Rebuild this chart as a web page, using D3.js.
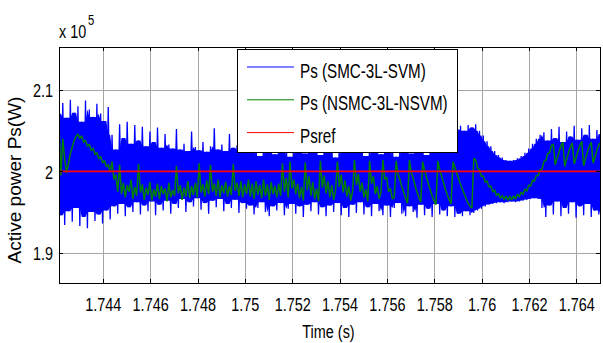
<!DOCTYPE html>
<html>
<head>
<meta charset="utf-8">
<script src="https://cdn.jsdelivr.net/npm/d3@7"></script>
<style>
  body { margin: 0; background: #fff; }
  svg { display: block; }
  text { font-family: "Liberation Sans", Arial, sans-serif; fill: #000; }
</style>
</head>
<body>
<svg id="chart" width="603" height="343"></svg>
<script>
// Sampled record: first sample time and sample step (s)
const tStart = 1.74215;
const tStep = 0.00008;
const tEnd = 1.765;

// Ps with SMC and 3-level SVM (x 10^5 W), successive extremes
const psSmc = [
  2.071,1.946,2.084,1.934,2.066,1.951,2.088,1.938,2.072,1.955,
  2.080,1.933,2.061,1.944,2.087,1.930,2.076,1.950,2.067,1.939,
  2.083,1.947,2.071,1.936,2.062,1.952,2.079,1.941,2.045,1.957,
  2.027,1.948,2.058,1.960,2.041,1.945,2.061,1.956,2.034,1.950,
  2.057,1.962,2.038,1.947,2.055,1.958,2.031,1.951,2.049,1.963,
  2.036,1.946,2.054,1.959,2.029,1.952,2.046,1.964,2.033,1.948,
  2.028,1.960,2.052,1.955,2.027,1.966,2.034,1.950,2.025,1.962,
  2.049,1.957,2.030,1.967,2.026,1.953,2.036,1.961,2.024,1.948,
  2.031,1.964,2.053,1.956,2.027,1.966,2.033,1.951,2.025,1.960,
  2.046,1.955,2.029,1.965,2.032,1.949,2.026,1.961,2.051,1.954,
  2.030,1.958,2.024,1.947,2.035,1.955,2.019,1.962,2.032,1.950,
  2.027,1.945,2.038,1.957,2.021,1.952,2.033,1.961,2.026,1.946,
  2.036,1.954,2.018,1.960,2.031,1.948,2.028,1.957,2.039,1.944,
  2.022,1.959,2.034,1.951,2.025,1.962,2.037,1.947,2.020,1.956,
  2.032,1.945,2.029,1.958,2.040,1.950,2.017,1.961,2.033,1.946,
  2.026,1.955,2.036,1.944,2.023,1.959,2.031,1.949,2.028,1.962,
  2.038,1.947,2.019,1.956,2.034,1.945,2.025,1.960,2.037,1.951,
  2.021,1.946,2.030,1.958,2.027,1.944,2.039,1.955,2.018,1.961,
  2.033,1.948,2.029,1.945,2.036,1.957,2.022,1.950,2.035,1.943,
  2.026,1.959,2.041,1.946,2.020,1.954,2.032,1.944,2.027,1.960,
  2.038,1.947,2.024,1.952,2.043,1.945,2.030,1.957,2.047,1.944,
  2.052,1.948,2.056,1.945,2.050,1.951,2.057,1.946,2.054,1.949,
  2.058,1.952,2.050,1.954,2.044,1.957,2.037,1.959,2.031,1.960,
  2.025,1.961,2.020,1.962,2.017,1.961,2.014,1.962,2.013,1.963,
  2.014,1.962,2.016,1.963,2.019,1.964,2.023,1.965,2.028,1.966,
  2.034,1.967,2.040,1.966,2.045,1.955,2.048,1.944,2.038,1.958,
  2.052,1.947,2.041,1.963,2.055,1.945,2.036,1.955,2.049,1.948,
  2.043,1.962,2.056,1.943,2.039,1.957,2.053,1.946,2.045,1.960,
  2.057,1.944,2.040,1.952,2.051,1.947,2.046
];

// Ps with NSMC and 3-level NSVM (x 10^5 W)
const psNsmc = [
  2.058,1.995,2.040,2.015,1.998,2.010,2.022,2.030,2.038,2.043,
  2.046,2.040,2.044,2.036,2.038,2.031,2.033,2.026,2.028,2.021,
  2.023,2.016,2.018,2.011,2.013,2.006,2.008,2.000,2.012,1.990,
  1.996,1.975,2.008,1.972,1.986,1.968,1.983,1.975,1.990,1.966,
  1.981,1.970,2.009,1.974,1.984,1.965,1.980,1.971,1.987,1.964,
  1.978,1.969,1.985,1.966,1.982,1.972,1.979,1.963,1.986,1.968,
  1.977,1.970,2.007,1.973,1.983,1.965,1.980,1.969,1.988,1.967,
  1.982,1.971,1.986,1.968,2.010,1.974,1.984,1.969,1.989,1.972,
  2.008,1.975,1.985,1.970,1.990,1.968,1.983,1.973,1.987,1.969,
  1.982,1.971,2.009,1.976,1.986,1.970,1.988,1.968,1.984,1.972,
  1.990,1.969,1.985,1.966,1.988,1.971,1.983,1.967,1.990,1.970,
  1.984,1.965,1.987,1.972,1.982,1.968,1.985,1.970,2.010,1.975,
  1.992,1.968,2.012,1.979,1.990,1.972,1.985,1.967,1.981,1.964,
  2.011,1.977,1.994,1.970,1.987,1.966,1.979,1.963,2.013,1.980,
  1.995,1.973,1.988,1.968,1.983,1.965,1.976,2.012,1.981,1.996,
  1.974,1.989,1.969,1.982,1.964,1.975,2.014,1.983,1.997,1.975,
  1.986,1.968,1.978,1.963,2.013,1.985,1.994,1.972,1.982,1.966,
  1.974,2.014,1.990,1.993,1.975,1.979,1.966,1.968,2.013,1.996,
  1.990,1.981,1.974,1.967,1.961,2.014,1.999,1.992,1.982,1.975,
  1.968,1.962,2.012,2.001,1.993,1.985,1.977,1.970,1.964,1.959,
  2.013,2.002,1.994,1.986,1.978,1.971,1.965,1.960,2.012,2.005,
  1.998,1.991,1.984,1.978,1.972,1.966,1.961,1.957,1.955,2.016,
  2.014,2.004,2.002,1.994,1.994,1.987,1.988,1.981,1.982,1.975,
  1.977,1.970,1.973,1.967,1.970,1.966,1.969,1.965,1.969,1.965,
  1.970,1.966,1.972,1.969,1.974,1.972,1.978,1.976,1.983,1.982,
  1.989,1.988,1.995,1.995,2.002,2.003,2.012,2.013,2.022,2.023,
  2.032,2.033,2.008,2.016,2.024,2.031,2.036,2.006,2.015,2.023,
  2.030,2.035,2.009,2.017,2.025,2.032,2.037,2.007,2.016,2.024,
  2.031,2.036,2.010,2.018,2.026,2.033,2.035
];

// Reference power (x 10^5 W) at the start and end of the window
const psRefTimes = [tStart, tEnd];
const psRef = [2.0, 2.0];

const seriesNames = ["Ps (SMC-3L-SVM)", "Ps (NSMC-3L-NSVM)", "Psref"];
const seriesColors = ["#0000ff", "#008000", "#ff0000"];

const xTicks = [1.744, 1.746, 1.748, 1.750, 1.752, 1.754, 1.756, 1.758, 1.760, 1.762, 1.764];
const xTickLabels = ["1.744", "1.746", "1.748", "1.75", "1.752", "1.754", "1.756", "1.758", "1.76", "1.762", "1.764"];
const yTicks = [1.9, 2.0, 2.1];
const yTickLabels = ["1.9", "2", "2.1"];

// ---- layout ----
const plot = { left: 59, right: 600, top: 47, bottom: 283 };
const squeeze = 0.78;   // narrow face for horizontal labels

const x = d3.scaleLinear().domain([tStart, tEnd]).range([plot.left, plot.right]);
const y = d3.scaleLinear().domain([1.8628, 2.1529]).range([plot.bottom, plot.top]);
const tOf = i => tStart + i * tStep;

const svg = d3.select("#chart");

svg.append("defs").append("clipPath").attr("id", "plotClip")
  .append("rect")
  .attr("x", plot.left).attr("y", plot.top)
  .attr("width", plot.right - plot.left).attr("height", plot.bottom - plot.top);

// grid
const grid = svg.append("g").attr("stroke", "#a6a6a6").attr("stroke-width", 1);
grid.selectAll("line.gx").data(xTicks).join("line")
  .attr("x1", d => Math.round(x(d)) + 0.5).attr("x2", d => Math.round(x(d)) + 0.5)
  .attr("y1", plot.top).attr("y2", plot.bottom);
grid.selectAll("line.gy").data(yTicks).join("line")
  .attr("y1", d => Math.round(y(d)) + 0.5).attr("y2", d => Math.round(y(d)) + 0.5)
  .attr("x1", plot.left).attr("x2", plot.right);

// traces
const traces = svg.append("g").attr("clip-path", "url(#plotClip)");
const sampled = d3.line().x((d, i) => x(tOf(i))).y(d => y(d));

// The switching ripple sweeps the whole span between neighbouring
// extremes, so the inner envelope of each 5-sample window is painted solid.
const smcCore = psSmc.map((v, i) => {
  const win = psSmc.slice(Math.max(0, i - 2), Math.min(psSmc.length, i + 3));
  const mid = (d3.max(win) + d3.min(win)) / 2;
  const highs = win.filter(w => w >= mid), lows = win.filter(w => w < mid);
  return { i, hi: d3.min(highs), lo: d3.max(lows) };
});
traces.append("path").datum(smcCore)
  .attr("d", d3.area().x(d => x(tOf(d.i))).y0(d => y(d.lo)).y1(d => y(d.hi)))
  .attr("fill", seriesColors[0]);

traces.append("path").datum(psSmc)
  .attr("d", sampled).attr("fill", "none")
  .attr("stroke", seriesColors[0]).attr("stroke-width", 1.3)
  .attr("stroke-linejoin", "miter").attr("stroke-miterlimit", 2);

traces.append("path").datum(psNsmc)
  .attr("d", sampled).attr("fill", "none")
  .attr("stroke", seriesColors[1]).attr("stroke-width", 1.5)
  .attr("stroke-linejoin", "miter").attr("stroke-miterlimit", 2);

traces.append("path").datum(psRef)
  .attr("d", d3.line().x((d, i) => x(psRefTimes[i])).y(d => y(d)))
  .attr("fill", "none")
  .attr("stroke", seriesColors[2]).attr("stroke-width", 1.6);

// axes box
svg.append("rect")
  .attr("x", plot.left + 0.5).attr("y", plot.top + 0.5)
  .attr("width", plot.right - plot.left).attr("height", plot.bottom - plot.top)
  .attr("fill", "none").attr("stroke", "#000").attr("stroke-width", 1);

// inward tick marks on all four sides
const tickLen = 4;
const ticks = svg.append("g").attr("stroke", "#000").attr("stroke-width", 1);
xTicks.forEach(d => {
  const px = Math.round(x(d)) + 0.5;
  ticks.append("line").attr("x1", px).attr("x2", px).attr("y1", plot.bottom).attr("y2", plot.bottom - tickLen);
  ticks.append("line").attr("x1", px).attr("x2", px).attr("y1", plot.top).attr("y2", plot.top + tickLen);
});
yTicks.forEach(d => {
  const py = Math.round(y(d)) + 0.5;
  ticks.append("line").attr("y1", py).attr("y2", py).attr("x1", plot.left).attr("x2", plot.left + tickLen);
  ticks.append("line").attr("y1", py).attr("y2", py).attr("x1", plot.right).attr("x2", plot.right - tickLen);
});

// tick labels via d3 axes
const xAxis = svg.append("g").attr("transform", `translate(0,${plot.bottom})`)
  .call(d3.axisBottom(x).tickValues(xTicks).tickFormat((d, i) => xTickLabels[i]).tickSize(0));
xAxis.select(".domain").remove();
xAxis.selectAll("text")
  .attr("y", 0).attr("dy", null)
  .attr("font-size", 18.5)
  .attr("transform", `translate(0,27.5) scale(${squeeze},1)`);

const yAxis = svg.append("g").attr("transform", `translate(${plot.left},0)`)
  .call(d3.axisLeft(y).tickValues(yTicks).tickFormat((d, i) => yTickLabels[i]).tickSize(0));
yAxis.select(".domain").remove();
yAxis.selectAll("text")
  .attr("x", 0).attr("dy", "0.36em")
  .attr("font-size", 18.5)
  .attr("transform", `translate(-6,0) scale(${squeeze},1)`);
svg.selectAll(".tick text").attr("font-family", "Liberation Sans, Arial, sans-serif").attr("fill", "#000");

// exponent label
const expo = svg.append("g").attr("transform", "translate(59,37.5)");
expo.append("text").attr("font-size", 18).attr("transform", `scale(0.8,1)`).text("x 10");
expo.append("text").attr("font-size", 14).attr("transform", `translate(29,-13) scale(0.8,1)`).text("5");

// axis titles
svg.append("text")
  .attr("transform", `translate(${(plot.left + plot.right) / 2 - 1},338) scale(0.76,1)`)
  .attr("text-anchor", "middle").attr("font-size", 19)
  .text("Time (s)");

svg.append("text")
  .attr("transform", "translate(21,180) rotate(-90)")
  .attr("text-anchor", "middle").attr("font-size", 19)
  .text("Active power Ps(W)");

// legend
const legend = svg.append("g");
legend.append("rect")
  .attr("x", 237.5).attr("y", 49.5).attr("width", 220).attr("height", 103)
  .attr("fill", "#fff").attr("stroke", "#000").attr("stroke-width", 1);
seriesNames.forEach((name, i) => {
  const ly = 67 + i * 32.8;
  legend.append("line")
    .attr("x1", 247).attr("x2", 294).attr("y1", ly).attr("y2", ly)
    .attr("stroke", seriesColors[i]).attr("stroke-width", 1);
  legend.append("text")
    .attr("transform", `translate(300,${ly + 10.5}) scale(0.76,1)`)
    .attr("font-size", 20)
    .text(name);
});
</script>
</body>
</html>
